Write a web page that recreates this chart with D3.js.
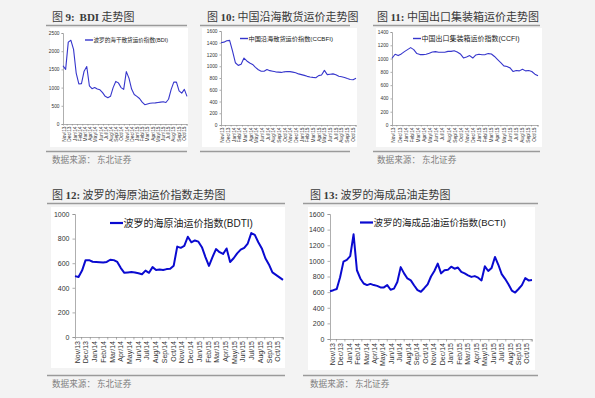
<!DOCTYPE html>
<html>
<head>
<meta charset="utf-8">
<script src="https://cdn.jsdelivr.net/npm/d3@7"></script>
<style>
  body { margin: 0; background: #f3f3f3; }
  svg { display: block; }
</style>
</head>
<body>
<svg id="page" width="595" height="398"></svg>
<script>
// month labels shared by all five charts
const months = ['Nov/13', 'Dec/13', 'Jan/14', 'Feb/14', 'Mar/14', 'Apr/14', 'May/14', 'Jun/14',
  'Jul/14', 'Aug/14', 'Sep/14', 'Oct/14', 'Nov/14', 'Dec/14', 'Jan/15', 'Feb/15', 'Mar/15',
  'Apr/15', 'May/15', 'Jun/15', 'Jul/15', 'Aug/15', 'Sep/15', 'Oct/15'];

// values, evenly spaced from Nov/13 to end of Oct/15
const bdi = [1600, 1500, 2250, 2300, 2050, 1400, 1100, 1110, 1450, 1580, 1050, 970, 1000, 960,
  940, 860, 760, 720, 760, 1000, 1170, 1130, 1000, 950, 1440, 1260, 960, 810, 760, 700, 600,
  530, 550, 570, 575, 580, 590, 600, 610, 590, 680, 950, 1150, 1150, 910, 850, 950, 760];

const ccbfi = [1400, 1410, 1435, 1440, 1260, 1060, 1015, 1035, 1140, 1090, 1055, 1030, 980, 940,
  915, 915, 945, 925, 915, 905, 900, 895, 905, 910, 908, 900, 890, 870, 858, 845, 828, 818, 810,
  805, 840, 850, 930, 858, 865, 870, 855, 830, 820, 808, 790, 775, 770, 795];

const ccfi = [1005, 1065, 1045, 1070, 1105, 1135, 1165, 1135, 1075, 1060, 1060, 1065, 1080, 1100,
  1105, 1095, 1095, 1095, 1108, 1108, 1118, 1100, 1070, 1010, 1025, 1045, 1008, 1055, 1065, 1058,
  1060, 1075, 1068, 1032, 985, 940, 890, 880, 860, 805, 820, 815, 840, 815, 820, 805, 765, 740];

const bdti = [495, 488, 540, 625, 625, 612, 610, 608, 605, 610, 628, 625, 610, 560, 522, 525, 528,
  524, 518, 510, 540, 522, 568, 545, 548, 545, 552, 555, 580, 735, 725, 740, 815, 770, 785, 775,
  730, 650, 578, 650, 715, 690, 675, 720, 610, 640, 680, 710, 725, 760, 845, 830, 770, 720, 640,
  590, 525, 505, 485, 465];

const bcti = [612, 625, 640, 790, 990, 1013, 1060, 1340, 880, 775, 710, 690, 705, 690, 680, 660,
  660, 690, 630, 645, 730, 920, 840, 775, 750, 685, 625, 605, 650, 700, 800, 870, 965, 840, 880,
  885, 925, 900, 915, 860, 840, 815, 795, 805, 785, 750, 930, 870, 910, 1050, 950, 830, 770, 700,
  620, 595, 640, 690, 780, 750, 755];

const span = 23.85; // months covered by each series

const svg = d3.select('#page');
svg.append('rect').attr('width', 595).attr('height', 398).attr('fill', '#f3f3f3');

const charts = [
  {
    title: [['图 ', 0], ['9:', 1], ['  ', 0], ['BDI', 1], [' 走势图', 0]],
    tx: 52, ty: 21, rule: [46, 187], topRule: 25.5, botRule: 151.5,
    panel: [50, 28, 188, 147], x0: 63, x1: 187, yb: 124, yt: 33,
    yMax: 2500, yStep: 500, data: bdi, small: true,
    legend: '波罗的海干散货运价指数(BDI)', lx: 85, ly: 40, lsize: 5.6, src: true,
  },
  {
    title: [['图 ', 0], ['10:', 1], [' 中国沿海散货运价走势图', 0]],
    tx: 207, ty: 21, rule: [200, 350], topRule: 25.5, botRule: 151.5,
    panel: [202, 28, 357, 147], x0: 221, x1: 356, yb: 125, yt: 31,
    yMax: 1600, yStep: 200, data: ccbfi, small: true,
    legend: '中国沿海散货运价指数(CCBFI)', lx: 240, ly: 38.5, lsize: 6.2, src: false,
  },
  {
    title: [['图 ', 0], ['11:', 1], [' 中国出口集装箱运价走势图', 0]],
    tx: 377, ty: 21, rule: [373, 540], topRule: 25.5, botRule: 151.5,
    panel: [376, 28, 542, 147], x0: 392, x1: 538, yb: 125, yt: 32,
    yMax: 1400, yStep: 200, data: ccfi, small: true,
    legend: '中国出口集装箱运价指数(CCFI)', lx: 413, ly: 38.5, lsize: 7, src: true,
  },
  {
    title: [['图 ', 0], ['12:', 1], [' 波罗的海原油运价指数走势图', 0]],
    tx: 52, ty: 199, rule: [47, 285], topRule: 203.5, botRule: 375.5,
    panel: [51, 207, 285, 368], x0: 75, x1: 283, yb: 337, yt: 214,
    yMax: 1000, yStep: 200, data: bdti, small: false,
    legend: '波罗的海原油运价指数(BDTI)', lx: 110, ly: 223, lsize: 10, src: true,
  },
  {
    title: [['图 ', 0], ['13:', 1], [' 波罗的海成品油走势图', 0]],
    tx: 310, ty: 199, rule: [303, 538], topRule: 203.5, botRule: 375.5,
    panel: [308, 207, 535, 370], x0: 330, x1: 532, yb: 339, yt: 214,
    yMax: 1600, yStep: 200, data: bcti, small: false,
    legend: '波罗的海成品油运价指数(BCTI)', lx: 360, ly: 222.5, lsize: 9.5, src: true,
  },
];

function drawChart(c) {
  const g = svg.append('g');
  const fs = c.small ? 4.8 : 7;

  g.append('rect')
    .attr('x', c.panel[0]).attr('y', c.panel[1])
    .attr('width', c.panel[2] - c.panel[0]).attr('height', c.panel[3] - c.panel[1])
    .attr('fill', '#fff');

  const t = g.append('text')
    .attr('x', c.tx).attr('y', c.ty)
    .attr('xml:space', 'preserve')
    .attr('font-size', 11).attr('fill', '#3a3a3a');
  c.title.forEach(([s, b]) => {
    t.append('tspan').text(s)
      .attr('font-family', b ? '"Liberation Serif"' : '"Noto Sans CJK SC"')
      .attr('font-weight', b ? 'bold' : 'normal');
  });

  [c.topRule, c.botRule].forEach((ry) => {
    g.append('line')
      .attr('x1', c.rule[0]).attr('x2', c.rule[1]).attr('y1', ry).attr('y2', ry)
      .attr('stroke', '#9a9a9a').attr('stroke-width', 1.4);
  });

  if (c.src) {
    g.append('text')
      .attr('x', c.tx).attr('y', c.botRule + 11)
      .attr('font-family', '"Noto Sans CJK SC"').attr('font-size', 8.6)
      .attr('fill', '#808080')
      .text('数据来源： 东北证券');
  }

  const x = d3.scaleLinear().domain([0, span]).range([c.x0, c.x1]);
  const y = d3.scaleLinear().domain([0, c.yMax]).range([c.yb, c.yt]);

  // y axis
  const yAxis = g.append('g')
    .attr('transform', `translate(${c.x0}, 0)`)
    .call(d3.axisLeft(y)
      .tickValues(d3.range(0, c.yMax + 1, c.yStep))
      .tickFormat(d3.format('d'))
      .tickSize(c.small ? 1.5 : 2.5)
      .tickPadding(c.small ? 2 : 3));
  yAxis.selectAll('path, line').attr('stroke', '#8c8c8c').attr('stroke-width', 0.7);
  yAxis.selectAll('text')
    .attr('font-family', '"Liberation Sans", Arial, sans-serif')
    .attr('font-size', fs).attr('fill', '#333');

  // x axis: tick marks between months
  const xTicks = g.append('g')
    .attr('transform', `translate(0, ${c.yb})`)
    .call(d3.axisBottom(x)
      .tickValues(months.map((m, i) => i + 0.7))
      .tickFormat('')
      .tickSizeOuter(0)
      .tickSize(c.small ? 1.5 : 2.5));
  xTicks.selectAll('path, line').attr('stroke', '#8c8c8c').attr('stroke-width', 0.7);

  // x axis: rotated month labels
  const xLabels = g.append('g')
    .attr('transform', `translate(0, ${c.yb})`)
    .call(d3.axisBottom(x)
      .tickValues(months.map((m, i) => i + 0.2))
      .tickFormat((d, i) => months[i])
      .tickSize(0));
  xLabels.select('.domain').remove();
  xLabels.selectAll('text')
    .attr('transform', 'rotate(-90)')
    .attr('text-anchor', 'end')
    .attr('x', c.small ? -2.5 : -4)
    .attr('y', 0)
    .attr('dy', '0.35em')
    .attr('font-family', '"Liberation Sans", Arial, sans-serif')
    .attr('font-size', fs).attr('fill', '#333');

  // series line
  const pts = c.data.map((v, i) => [i * span / (c.data.length - 1), v]);
  const color = c.small ? '#3636cc' : '#0a0ad0';
  const lw = c.small ? 1.1 : 2;
  g.append('path')
    .datum(pts)
    .attr('fill', 'none')
    .attr('stroke', color)
    .attr('stroke-width', lw)
    .attr('stroke-linejoin', 'round')
    .attr('d', d3.line().x((d) => x(d[0])).y((d) => y(d[1])));

  // legend
  const legW = c.small ? 8 : 13;
  g.append('line')
    .attr('x1', c.lx).attr('x2', c.lx + legW).attr('y1', c.ly).attr('y2', c.ly)
    .attr('stroke', color).attr('stroke-width', c.small ? 1.4 : 2.2);
  g.append('text')
    .attr('x', c.lx + legW + 0.5).attr('y', c.ly).attr('dy', '0.35em')
    .attr('font-family', '"Liberation Sans", "Noto Sans CJK SC", sans-serif')
    .attr('font-size', c.lsize).attr('fill', '#222')
    .text(c.legend);
}

charts.forEach(drawChart);
</script>
</body>
</html>
